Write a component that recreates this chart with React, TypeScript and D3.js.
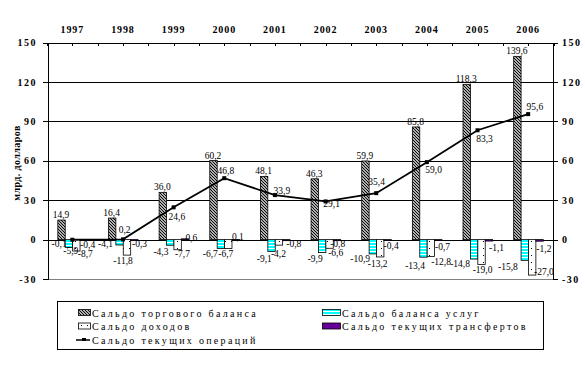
import React from 'react';
import * as d3 from 'd3';

const years = ['1997', '1998', '1999', '2000', '2001', '2002', '2003', '2004', '2005', '2006'];
const tradeBalance = [14.9, 16.4, 36.0, 60.2, 48.1, 46.3, 59.9, 85.8, 118.3, 139.6];
const servicesBalance = [-5.9, -4.1, -4.3, -6.7, -9.1, -9.9, -10.9, -13.4, -14.8, -15.8];
const incomeBalance = [-8.7, -11.8, -7.7, -6.7, -4.2, -6.6, -13.2, -12.8, -19.0, -27.0];
const transfersBalance = [-0.4, -0.3, 0.6, 0.1, -0.8, -0.8, -0.4, -0.7, -1.1, -1.2];
const currentAccount = [-0.1, 0.2, 24.6, 46.8, 33.9, 29.1, 35.4, 59.0, 83.3, 95.6];
const yTicks = [-30, 0, 30, 60, 90, 120, 150];
const seriesKeys = ['trade', 'services', 'income', 'transfers'];
const legendLabels = [
  'Сальдо торгового баланса',
  'Сальдо баланса услуг',
  'Сальдо доходов',
  'Сальдо текущих трансфертов',
  'Сальдо текущих операций',
];
const yTitle = 'млрд. долларов';

// label placement offsets (layout, px) relative to category centre and value position
const servLabelDx = [-1.5, -17.4, -12.7, -14, -10.6, -10.4, -16, -11.8, -17.5, -20.3];
const servLabelDy = [3.5, -1.7, 6, 5.4, 7.3, 6.2, 4.9, 8, 4.8, 6.5];
const incLabelDx = [13, 0.1, 8.8, 1.5, 3.5, 10.1, 1.4, 14.2, 5, 15.7];
const incLabelDy = [2.8, 5.2, 4.1, 5.4, 8.7, 4.5, 6.9, 5.4, 4.8, -3.2];
const trfLabelDx = [15.3, 16.6, 17.8, 13.6, 18.9, 12.1, 14.9, 15.7, 19, 15.7];
const trfLabelDy = [4.7, 4, -1.5, -2.7, 3.2, 3.5, 5.2, 6.2, 6.8, 7.1];
const caLabelDx = [-13.2, 1.6, 3.3, 1.6, 6.9, 6.1, 0.4, 6.7, 7, 6.7];
const caLabelDy = [4.1, -10, 9.4, -7.9, -4.9, 2.3, -11.4, 8, 8.4, -7.5];

const fmt = (v: number) => v.toFixed(1).replace('.', ',');
const SERIF = "'Liberation Serif', 'DejaVu Serif', serif";

export default function App() {
  const W = 585, H = 375;
  const x = d3.scaleBand<string>().domain(years).range([47, 553.5]).paddingInner(0).paddingOuter(0);
  const y = d3.scaleLinear().domain([-30, 150]).range([279, 42.7]);
  const sub = d3.scaleBand<string>().domain(seriesKeys).range([-14.5, 15.1]);
  const cx = (i: number) => (x(years[i]) as number) + x.bandwidth() / 2;
  const left = 48, right = 553;
  const fills: Record<string, string> = {
    trade: 'url(#hatch)',
    services: 'url(#cyanStripe)',
    income: 'url(#dots)',
    transfers: '#660099',
  };
  const data: Record<string, number[]> = {
    trade: tradeBalance,
    services: servicesBalance,
    income: incomeBalance,
    transfers: transfersBalance,
  };
  const line = d3
    .line<number>()
    .x((_, i) => cx(i))
    .y((d) => y(d));

  const halfTicks: number[] = [];
  for (let i = 0; i <= years.length * 2; i++) halfTicks.push(47 + (i * x.bandwidth()) / 2);

  return (
    <svg width={W} height={H} fontFamily={SERIF} style={{ position: 'absolute', left: 0, top: 0, background: '#fff' }}>
      <defs>
        <pattern id="hatch" patternUnits="userSpaceOnUse" width="3" height="3">
          <rect width="3" height="3" fill="#fff" />
          <path d="M0,0 L3,3 M-1,2 L1,4 M2,-1 L4,1" stroke="#000" strokeWidth="1.2" />
        </pattern>
        <pattern id="cyanStripe" patternUnits="userSpaceOnUse" width="4" height="3">
          <rect width="4" height="3" fill="#00ffff" />
          <rect y="2" width="4" height="1" fill="#fff" />
        </pattern>
        <pattern id="dots" patternUnits="userSpaceOnUse" width="6" height="7">
          <rect width="6" height="7" fill="#fff" />
          <rect x="3" y="3" width="1" height="1" fill="#000" />
        </pattern>
      </defs>

      {yTicks.map((t) => (
        <line
          key={'g' + t}
          x1={left}
          x2={right}
          y1={Math.round(y(t)) + 0.5}
          y2={Math.round(y(t)) + 0.5}
          stroke={t === -30 ? '#808080' : '#000'}
          strokeWidth={1}
        />
      ))}
      {halfTicks.map((t, i) => (
        <line key={'ht' + i} x1={Math.round(t) + 0.5} x2={Math.round(t) + 0.5} y1={43} y2={46} stroke="#000" />
      ))}
      <line x1={left + 0.5} x2={left + 0.5} y1={Math.round(y(150))} y2={Math.round(y(-30)) + 1} stroke="#000" />
      <line x1={right + 0.5} x2={right + 0.5} y1={Math.round(y(150))} y2={Math.round(y(-30)) + 1} stroke="#000" />
      {yTicks.map((t) => (
        <g key={'yt' + t} fontFamily={SERIF} fontSize={10} fontWeight="bold" letterSpacing={1.5}>
          <line x1={left - 5} x2={left} y1={Math.round(y(t)) + 0.5} y2={Math.round(y(t)) + 0.5} stroke="#000" />
          <line x1={right} x2={right + 5} y1={Math.round(y(t)) + 0.5} y2={Math.round(y(t)) + 0.5} stroke="#000" />
          <text x={37} y={y(t)} dy="0.35em" textAnchor="end">
            {t}
          </text>
          <text x={562} y={y(t)} dy="0.35em" textAnchor="start">
            {t}
          </text>
        </g>
      ))}
      {years.map((yr, i) => (
        <text key={yr} x={cx(i)} y={33} textAnchor="middle" fontFamily={SERIF} fontSize={10} fontWeight="bold" letterSpacing={0.9}>
          {yr}
        </text>
      ))}
      <text
        transform={`translate(20,163) rotate(-90)`}
        textAnchor="middle"
        fontFamily={SERIF}
        fontSize={10}
        fontWeight="bold"
        letterSpacing={0.4}
      >
        {yTitle}
      </text>

      {seriesKeys.map((k) =>
        data[k].map((v, i) => {
          const bx = cx(i) + (sub(k) as number);
          const y0 = y(0), y1 = y(v);
          const top = Math.min(y0, y1);
          const h = Math.max(Math.abs(y1 - y0), 1);
          return (
            <rect key={k + i} x={bx} y={top} width={sub.bandwidth()} height={h} fill={fills[k]} stroke="#000" strokeWidth={0.8} />
          );
        })
      )}

      <path d={line(currentAccount) as string} fill="none" stroke="#000" strokeWidth={1.8} />
      {currentAccount.map((v, i) => (
        <rect key={'m' + i} x={cx(i) - 2} y={y(v) - 2} width={4} height={4} fill="#000" />
      ))}

      <g fontFamily={SERIF} fontSize={9.5} fill="#000">
        {tradeBalance.map((v, i) => (
          <text key={'lt' + i} x={cx(i) + (sub('trade') as number) + sub.bandwidth() / 2 - 0.5} y={y(v) - 2} textAnchor="middle">
            {fmt(v)}
          </text>
        ))}
        {servicesBalance.map((v, i) => (
          <text key={'ls' + i} x={cx(i) + servLabelDx[i]} y={y(v) + servLabelDy[i]} dy="0.35em" textAnchor="middle">
            {fmt(v)}
          </text>
        ))}
        {incomeBalance.map((v, i) => (
          <text key={'li' + i} x={cx(i) + incLabelDx[i]} y={y(v) + incLabelDy[i]} dy="0.35em" textAnchor="middle">
            {fmt(v)}
          </text>
        ))}
        {transfersBalance.map((v, i) => (
          <text key={'lf' + i} x={cx(i) + trfLabelDx[i]} y={y(v) + trfLabelDy[i]} dy="0.35em" textAnchor="middle">
            {fmt(v)}
          </text>
        ))}
        {currentAccount.map((v, i) => (
          <text key={'lc' + i} x={cx(i) + caLabelDx[i]} y={y(v) + caLabelDy[i]} dy="0.35em" textAnchor="middle">
            {fmt(v)}
          </text>
        ))}
      </g>

      <rect x={57.5} y={301.5} width={486} height={48} fill="#fff" stroke="#000" />
      {[
        { col: 0, row: 0, kind: 'trade', label: legendLabels[0] },
        { col: 1, row: 0, kind: 'services', label: legendLabels[1] },
        { col: 0, row: 1, kind: 'income', label: legendLabels[2] },
        { col: 1, row: 1, kind: 'transfers', label: legendLabels[3] },
        { col: 0, row: 2, kind: 'line', label: legendLabels[4] },
      ].map((it) => {
        const sx = it.col === 0 ? 78 : 322;
        const sw = it.col === 0 ? 12 : 18;
        const ry = 313 + it.row * 13.5;
        return (
          <g key={it.label}>
            {it.kind === 'line' ? (
              <g>
                <line x1={sx - 2} x2={sx + sw} y1={ry} y2={ry} stroke="#000" strokeWidth={1.5} />
                <rect x={sx + sw / 2 - 2} y={ry - 2} width={4} height={3} fill="#000" />
              </g>
            ) : (
              <rect x={sx + 0.5} y={ry - 3.5} width={sw} height={6} fill={fills[it.kind]} stroke="#000" strokeWidth={0.8} />
            )}
            <text x={sx + sw + 2} y={ry} dy="0.35em" fontFamily={SERIF} fontSize={10} letterSpacing={2.3}>
              {it.label}
            </text>
          </g>
        );
      })}
    </svg>
  );
}
